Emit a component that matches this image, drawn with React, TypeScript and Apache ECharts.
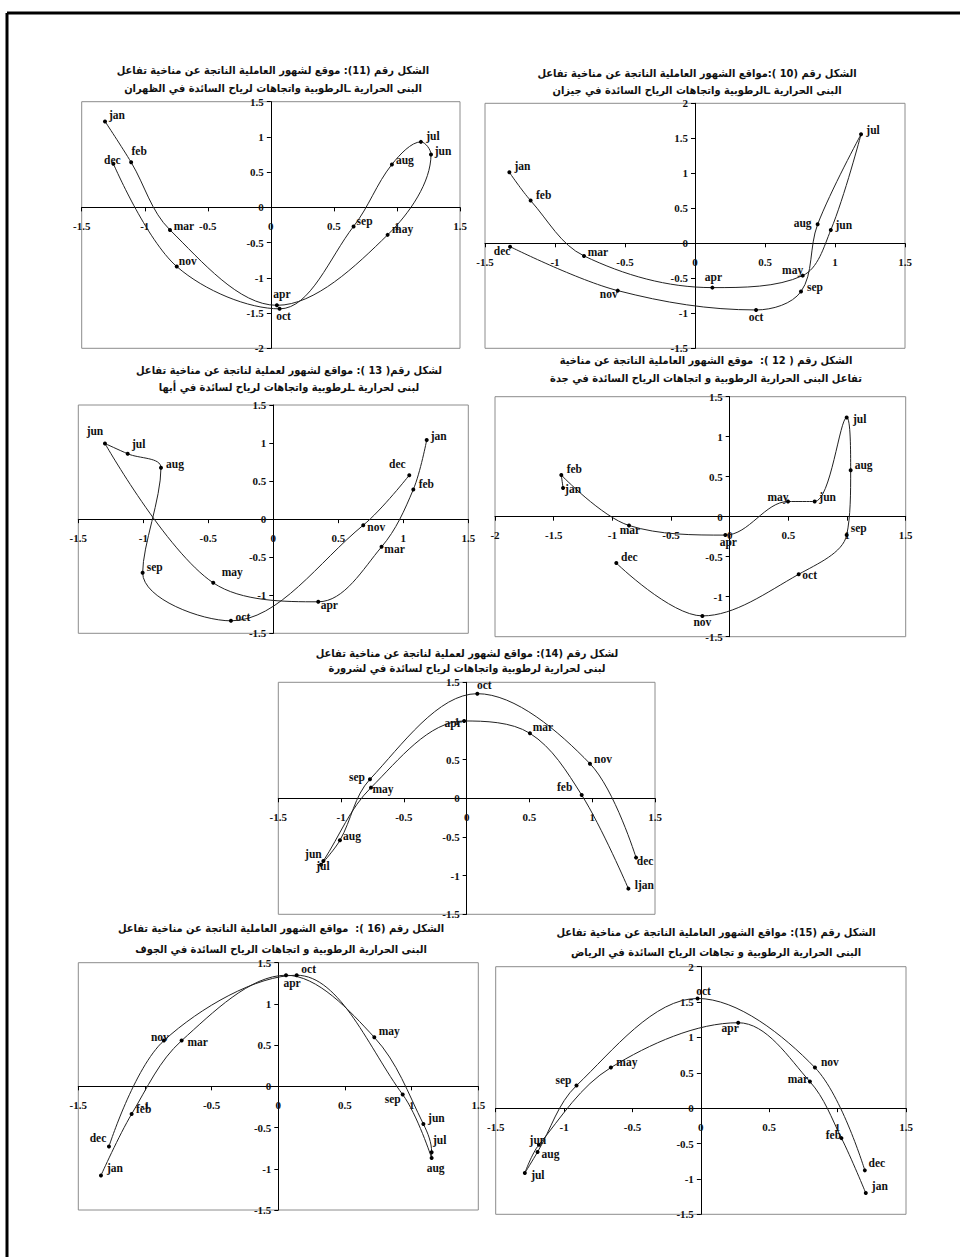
import React, { useEffect, useRef } from 'react';
import * as echarts from 'echarts';

const months = ['jan', 'feb', 'mar', 'apr', 'may', 'jun', 'jul', 'aug', 'sep', 'oct', 'nov', 'dec'];
const sharurahMonths = ['ljan', 'feb', 'mar', 'apr', 'may', 'jun', 'jul', 'aug', 'sep', 'oct', 'nov', 'dec'];

// Fig. 11 – Dhahran
const dhahranX = [-1.315, -1.108, -0.8, 0.048, 0.926, 1.27, 1.19, 0.96, 0.656, 0.069, -0.746, -1.249];
const dhahranY = [1.22, 0.64, -0.32, -1.39, -0.39, 0.75, 0.93, 0.61, -0.27, -1.44, -0.84, 0.62];
// Fig. 10 – Jizan
const jizanX = [-1.326, -1.174, -0.793, 0.124, 0.769, 0.97, 1.186, 0.876, 0.757, 0.436, -0.552, -1.321];
const jizanY = [1.014, 0.61, -0.18, -0.633, -0.462, 0.19, 1.557, 0.271, -0.69, -0.952, -0.676, -0.048];
// Fig. 13 – Abha
const abhaX = [1.18, 1.077, 0.833, 0.346, -0.462, -1.295, -1.12, -0.864, -1.005, -0.326, 0.692, 1.046];
const abhaY = [1.04, 0.39, -0.364, -1.086, -0.837, 0.994, 0.859, 0.675, -0.705, -1.336, -0.079, 0.578];
// Fig. 12 – Jeddah
const jeddahX = [-1.42, -1.435, -0.858, -0.037, 0.497, 0.724, 0.997, 1.031, 0.997, 0.588, -0.233, -0.966];
const jeddahY = [0.36, 0.52, -0.11, -0.23, 0.19, 0.19, 1.24, 0.58, -0.23, -0.72, -1.24, -0.58];
// Fig. 14 – Sharurah
const sharurahX = [1.288, 0.916, 0.504, -0.02, -0.762, -1.141, -1.16, -1.009, -0.77, 0.085, 0.982, 1.349];
const sharurahY = [-1.168, 0.043, 0.84, 1.0, 0.138, -0.81, -0.86, -0.543, 0.246, 1.353, 0.448, -0.767];
// Fig. 16 – Al-Jouf
const joufX = [-1.33, -1.1, -0.725, 0.058, 0.72, 1.088, 1.15, 1.15, 0.933, 0.138, -0.858, -1.27];
const joufY = [-1.081, -0.336, 0.555, 1.348, 0.595, -0.457, -0.8, -0.87, -0.1, 1.348, 0.555, -0.729];
// Fig. 15 – Riyadh
const riyadhX = [1.206, 1.028, 0.797, 0.273, -0.658, -1.184, -1.287, -1.194, -0.909, -0.024, 0.834, 1.199];
const riyadhY = [-1.2, -0.423, 0.376, 1.208, 0.574, -0.517, -0.917, -0.62, 0.32, 1.551, 0.574, -0.879];

// Month label offsets (px from each marker)
const dhahranOff = [[12, -6], [8, -11], [14, -4], [5, -11], [15, -6], [12, -4], [12, -6], [13, -4], [11, -5], [4, 7], [11, -6], [-1, -4]];
const jizanOff = [[13, -6], [13, -6], [14, -4], [1, -11], [-10, -6], [13, -5], [12, -4], [-15, -1], [14, -5], [0, 7], [-9, 3], [-8, 4]];
const abhaOff = [[12, -4], [13, -5], [13, 2], [11, 3], [19, -11], [-10, -13], [11, -10], [14, -4], [12, -6], [12, -4], [13, 2], [-12, -11]];
const jeddahOff = [[10, 1], [13, -6], [1, 4], [3, 7], [-10, -5], [13, -5], [13, 1], [13, -5], [12, -7], [11, 1], [0, 6], [13, -6]];
const sharurahOff = [[16, -4], [-17, -8], [13, -6], [-11, 2], [12, 1], [-10, -7], [2, 1], [12, -4], [-13, -2], [7, -9], [13, -5], [9, 3]];
const joufOff = [[14, -7], [12, -5], [16, 1], [6, 8], [15, -6], [13, -6], [8, -12], [4, 10], [-10, 4], [12, -6], [-4, -4], [-11, -8]];
const riyadhOff = [[14, -7], [-8, -3], [-12, -3], [-8, 5], [16, -6], [-1, -5], [13, 2], [13, 2], [-13, -6], [6, -7], [15, -6], [12, -7]];

const panels = [
  {
    title: ['الشكل رقم (11): موقع لشهور العاملية الناتجة عن مناخية تفاعل', 'البنى الحرارية ـالرطوبية واتجاهات لرياح السائدة في الظهران'],
    titlePos: [273, 70, 88],
    rect: [81.7, 101.7, 378.3, 246.6], xr: [-1.5, 1.5], yr: [-2, 1.5],
    x: dhahranX, y: dhahranY, names: months, off: dhahranOff,
  },
  {
    title: ['الشكل رقم (10 ):مواقع الشهور العاملية الناتجة عن مناخية تفاعل', 'البنى الحرارية ـالرطوبية واتجاهات الرياح السائدة في جيزان'],
    titlePos: [697, 73, 90],
    rect: [485, 103.3, 420, 245], xr: [-1.5, 1.5], yr: [-1.5, 2],
    x: jizanX, y: jizanY, names: months, off: jizanOff,
  },
  {
    title: ['لشكل رقم( 13 ): مواقع لشهور لعملية لناتجة عن مناخية تفاعل', 'لبنى لحرارية ـلرطوبية واتجاهات لرياح لسائدة في أبها'],
    titlePos: [289, 370, 387],
    rect: [78.3, 405, 390, 228.3], xr: [-1.5, 1.5], yr: [-1.5, 1.5],
    x: abhaX, y: abhaY, names: months, off: abhaOff,
  },
  {
    title: ['الشكل رقم ( 12 ):  موقع الشهور العاملية الناتجة عن مناخية', 'تفاعل البنى الحرارية الرطوبية و اتجاهات الرياح السائدة في جدة'],
    titlePos: [706, 360, 378],
    rect: [495, 396.7, 410.7, 240], xr: [-2, 1.5], yr: [-1.5, 1.5],
    x: jeddahX, y: jeddahY, names: months, off: jeddahOff,
  },
  {
    title: ['لشكل رقم (14): مواقع لشهور لعملية لناتجة عن مناخية تفاعل', 'لبنى لحرارية لرطوبية واتجاهات لرياح لسائدة في لشرورة'],
    titlePos: [467, 653, 668],
    rect: [278.3, 682.3, 376.7, 232], xr: [-1.5, 1.5], yr: [-1.5, 1.5],
    x: sharurahX, y: sharurahY, names: sharurahMonths, off: sharurahOff,
  },
  {
    title: ['الشكل رقم (16 ):  مواقع الشهور العاملية الناتجة عن مناخية تفاعل', 'البنى الحرارية الرطوبية و اتجاهات الرياح السائدة في الجوف'],
    titlePos: [281, 928, 949],
    rect: [78.3, 962.7, 400, 247.3], xr: [-1.5, 1.5], yr: [-1.5, 1.5],
    x: joufX, y: joufY, names: months, off: joufOff,
  },
  {
    title: ['الشكل رقم (15): مواقع الشهور العاملية الناتجة عن مناخية تفاعل', 'البنى الحرارية الرطوبية و تجاهات الرياح السائدة في الرياض'],
    titlePos: [716, 932, 952],
    rect: [495.7, 966.7, 410.3, 247.6], xr: [-1.5, 1.5], yr: [-1.5, 2],
    x: riyadhX, y: riyadhY, names: months, off: riyadhOff,
  },
];

const serifBold = {
  fontFamily: '"Liberation Serif", "Times New Roman", serif',
  fontWeight: 'bold' as const,
  fontSize: 11,
  color: '#111',
};

function buildOption() {
  const grid: any[] = [];
  const xAxis: any[] = [];
  const yAxis: any[] = [];
  const series: any[] = [];
  const graphic: any[] = [
    { type: 'line', shape: { x1: 7, y1: 13, x2: 960, y2: 13 }, style: { stroke: '#000', lineWidth: 3 } },
    { type: 'line', shape: { x1: 7, y1: 13, x2: 7, y2: 1257 }, style: { stroke: '#000', lineWidth: 3 } },
  ];

  panels.forEach((p, i) => {
    const [gl, gt, gw, gh] = p.rect;
    grid.push({
      left: gl, top: gt, width: gw, height: gh,
      show: true, borderColor: '#8c8c8c', borderWidth: 1, backgroundColor: 'transparent',
    });
    // shift each axis (line, ticks and labels) onto the other axis's zero
    const xShift = -((0 - p.yr[0]) / (p.yr[1] - p.yr[0])) * gh;
    const yShift = -((0 - p.xr[0]) / (p.xr[1] - p.xr[0])) * gw;
    const axisCommon = {
      type: 'value',
      gridIndex: i,
      interval: 0.5,
      axisLine: { show: true, onZero: false, lineStyle: { color: '#000', width: 1 } },
      axisTick: { show: true, length: 4, lineStyle: { color: '#000', width: 1 } },
      splitLine: { show: false },
    };
    xAxis.push({
      ...axisCommon,
      position: 'bottom',
      offset: xShift,
      min: p.xr[0], max: p.xr[1],
      axisLabel: { ...serifBold, margin: 13, showMinLabel: true, showMaxLabel: true },
    });
    yAxis.push({
      ...axisCommon,
      position: 'left',
      offset: yShift,
      min: p.yr[0], max: p.yr[1],
      axisLabel: { ...serifBold, margin: 7, showMinLabel: true, showMaxLabel: true },
    });
    series.push({
      type: 'line',
      xAxisIndex: i,
      yAxisIndex: i,
      smooth: 0.35,
      symbol: 'circle',
      symbolSize: 4,
      itemStyle: { color: '#000' },
      lineStyle: { color: '#222', width: 1 },
      label: {
        show: true,
        position: 'inside',
        formatter: '{b}',
        ...serifBold,
        fontSize: 11.5,
        textBorderWidth: 0,
        textBorderColor: 'transparent',
      },
      emphasis: { disabled: true },
      data: p.x.map((xv, k) => ({
        name: p.names[k],
        value: [xv, p.y[k]],
        label: { offset: p.off[k] },
      })),
    });
    p.title.forEach((line, li) => {
      graphic.push({
        type: 'text',
        x: p.titlePos[0],
        y: p.titlePos[1 + li],
        style: {
          text: line,
          font: 'bold 11px "DejaVu Sans Condensed", "DejaVu Sans"',
          fill: '#111',
          align: 'center',
          verticalAlign: 'middle',
          textAlign: 'center',
          textVerticalAlign: 'middle',
        },
      });
    });
  });

  return {
    animation: false,
    backgroundColor: '#fff',
    grid,
    xAxis,
    yAxis,
    series,
    graphic,
  };
}

export default function App() {
  const ref = useRef<HTMLDivElement>(null);
  useEffect(() => {
    if (!ref.current) return;
    const chart = echarts.init(ref.current, undefined, { renderer: 'svg' });
    chart.setOption(buildOption() as any);
    return () => chart.dispose();
  }, []);
  return (
    <div
      ref={ref}
      style={{ position: 'absolute', left: 0, top: 0, width: 960, height: 1257, background: '#fff' }}
    />
  );
}
